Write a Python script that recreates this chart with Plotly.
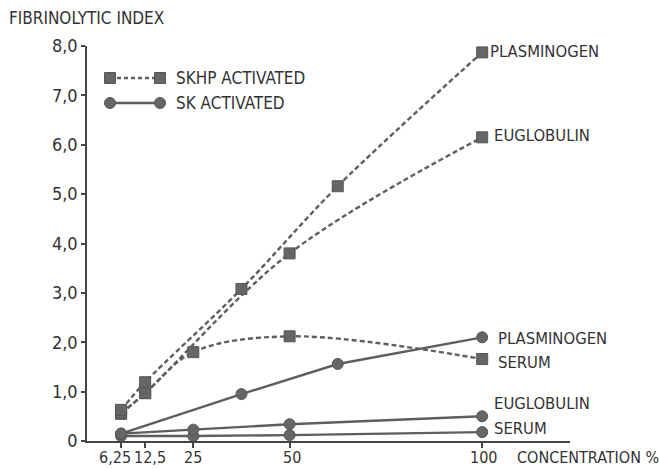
import plotly.graph_objects as go

# ---------------- data ----------------
skhp_plasminogen_x = [6.25, 12.5, 37.5, 62.5, 100]
skhp_plasminogen_y = [0.63, 1.19, 3.08, 5.16, 7.87]

skhp_euglobulin_x = [6.25, 12.5, 50, 100]
skhp_euglobulin_y = [0.57, 0.97, 3.80, 6.15]

skhp_serum_x = [6.25, 12.5, 25, 50, 100]
skhp_serum_y = [0.55, 0.97, 1.80, 2.12, 1.66]

sk_plasminogen_x = [6.25, 37.5, 62.5, 100]
sk_plasminogen_y = [0.15, 0.95, 1.56, 2.10]

sk_euglobulin_x = [6.25, 25, 50, 100]
sk_euglobulin_y = [0.15, 0.23, 0.34, 0.50]

sk_serum_x = [6.25, 25, 50, 100]
sk_serum_y = [0.10, 0.10, 0.12, 0.18]

x_tickvals = [6.25, 12.5, 25, 50, 100]
x_ticktext = ["6,25", "12,5", "25", "50", "100"]
y_tickvals = [0, 1, 2, 3, 4, 5, 6, 7, 8]
y_ticktext = ["0", "1,0", "2,0", "3,0", "4,0", "5,0", "6,0", "7,0", "8,0"]

# ---------------- style ----------------
W, H = 659, 469
L, R, T, B = 87, 570, 46, 441
FONT = "DejaVu Sans Condensed, Liberation Sans Narrow, sans-serif"
INK = "#333333"
LINE = "#5e5e5e"
MK = "#666666"


def px(xp):
    return (xp - L) / (R - L)


def py(yp):
    return (B - yp) / (B - T)


fig = go.Figure()

def add(x, y, symbol, dash, shape):
    fig.add_trace(go.Scatter(
        x=x, y=y, mode="lines+markers",
        line=dict(color=LINE, width=2.4, dash=dash, shape=shape, smoothing=1.0),
        marker=dict(symbol=symbol, size=11, color=MK,
                    line=dict(color="#555555", width=1)),
        showlegend=False, cliponaxis=False, hoverinfo="skip",
    ))

add(skhp_serum_x, skhp_serum_y, "square", "5px,3px", "spline")
add(skhp_euglobulin_x, skhp_euglobulin_y, "square", "5px,3px", "spline")
add(skhp_plasminogen_x, skhp_plasminogen_y, "square", "5px,3px", "spline")
add(sk_serum_x, sk_serum_y, "circle", "solid", "linear")
add(sk_euglobulin_x, sk_euglobulin_y, "circle", "solid", "linear")
add(sk_plasminogen_x, sk_plasminogen_y, "circle", "solid", "linear")

shapes = []
annotations = []

# legend drawn manually
for yy, dash, sym in [(78, "4px,3px", "rect"), (103, "solid", "circle")]:
    shapes.append(dict(type="line", xref="paper", yref="paper",
                       x0=px(110), x1=px(160), y0=py(yy), y1=py(yy),
                       line=dict(color=LINE, width=2.4, dash=dash)))
    for cx in (110, 160):
        shapes.append(dict(type=sym, xref="paper", yref="paper",
                           x0=px(cx - 5.5), x1=px(cx + 5.5),
                           y0=py(yy + 5.5), y1=py(yy - 5.5),
                           fillcolor=MK, line=dict(color="#555555", width=1)))

def txt(s, xp, yp, size=16.5, xanchor="left", yanchor="middle"):
    annotations.append(dict(text=s, x=px(xp), y=py(yp), xref="paper", yref="paper",
                            xanchor=xanchor, yanchor=yanchor, showarrow=False,
                            font=dict(family=FONT, size=size, color=INK)))

txt("SKHP ACTIVATED", 174, 78, 17)
txt("SK ACTIVATED", 174, 103, 17)
txt("FIBRINOLYTIC INDEX", 7, 18, 17)
txt("CONCENTRATION %", 515, 469, 16, "left", "bottom")
txt("PLASMINOGEN", 488, 52)
txt("EUGLOBULIN", 492, 135)
txt("PLASMINOGEN", 496, 338)
txt("SERUM", 496, 362)
txt("EUGLOBULIN", 492, 403)
txt("SERUM", 492, 428)

# x tick labels placed under their ticks (hand-spaced as in the original)
x_label_px = [115, 150, 193, 292, 483]
for lab, xp in zip(x_ticktext, x_label_px):
    txt(lab, xp, 469, 16, "center", "bottom")

fig.update_layout(
    width=W, height=H,
    margin=dict(l=L, r=W - R, t=T, b=H - B, pad=0),
    paper_bgcolor="white", plot_bgcolor="white",
    shapes=shapes, annotations=annotations,
    font=dict(family=FONT, color=INK, size=15),
    hovermode=False,
    xaxis=dict(range=[-2.6, 122.8], showgrid=False, zeroline=False,
               automargin=False, fixedrange=True,
               showline=True, linecolor="#444444", linewidth=1.5,
               ticks="outside", ticklen=5, tickwidth=1.5, tickcolor="#444444",
               tickvals=x_tickvals, ticktext=[""] * len(x_tickvals)),
    yaxis=dict(range=[0, 8], showgrid=False, zeroline=False,
               automargin=False, fixedrange=True,
               showline=True, linecolor="#444444", linewidth=1.5,
               ticks="outside", ticklen=4, tickwidth=1.5, tickcolor="#444444",
               tickvals=y_tickvals, ticktext=y_ticktext,
               tickfont=dict(family=FONT, size=18, color=INK)),
)

fig.write_html("out.html", config={"displayModeBar": False},
               post_script="document.body.style.margin='0';document.body.style.overflow='hidden';")
